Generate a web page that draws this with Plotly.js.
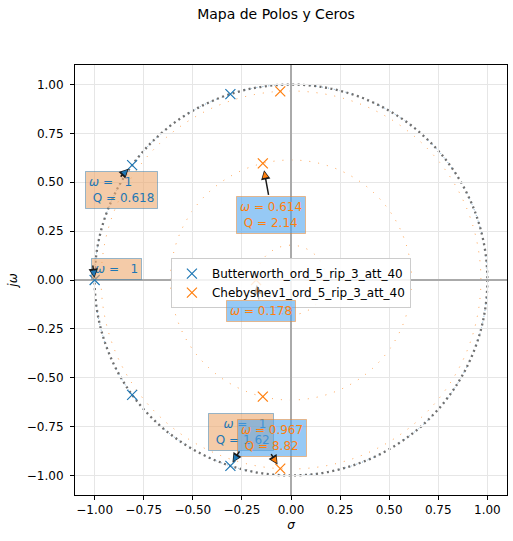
<!DOCTYPE html>
<html>
<head>
<meta charset="utf-8">
<script src="https://cdn.plot.ly/plotly-3.0.1.min.js"></script>
<style>
  html, body { margin: 0; padding: 0; background: #ffffff; }
  #plot { width: 513px; height: 541px; }
</style>
</head>
<body>
<div id="plot"></div>
<script>
// Pole sections of each filter: natural frequency and quality factor.
// A section without Q is a single real pole.
const butterName = 'Butterworth_ord_5_rip_3_att_40';
const butterOmega = [1, 1, 1];
const butterQ = [null, 0.618, 1.62];

const chebyName = 'Chebyshev1_ord_5_rip_3_att_40';
const chebyOmega = [0.178, 0.614, 0.967];
const chebyQ = [null, 2.14, 8.82];

const blue = '#1f77b4';
const orange = '#ff7f0e';
const FONT = 'DejaVu Sans, Liberation Sans, sans-serif';

// Poles of a section: real pole at -w, or the conjugate pair
// sigma = -w/(2Q), wd = w*sqrt(1 - 1/(4Q^2)).
function sectionPoles(w, q) {
  if (q === null) return [{ re: -w, im: 0 }];
  const re = -w / (2 * q);
  const im = w * Math.sqrt(1 - 1 / (4 * q * q));
  return [{ re: re, im: im }, { re: re, im: -im }];
}

function filterPoles(omegas, qs) {
  const xs = [], ys = [];
  omegas.forEach(function (w, i) {
    sectionPoles(w, qs[i]).forEach(function (p) { xs.push(p.re); ys.push(p.im); });
  });
  return { x: xs, y: ys };
}

const bp = filterPoles(butterOmega, butterQ);
const cp = filterPoles(chebyOmega, chebyQ);

const traces = [
  {
    type: 'scatter', mode: 'markers', name: butterName,
    x: bp.x, y: bp.y,
    marker: { symbol: 'x-thin', size: 10, color: blue, line: { color: blue, width: 1.2 } }
  },
  {
    type: 'scatter', mode: 'markers', name: chebyName,
    x: cp.x, y: cp.y,
    marker: { symbol: 'x-thin', size: 10, color: orange, line: { color: orange, width: 1.2 } }
  }
];

// Dotted circles of constant natural frequency
const shapes = [];
function circle(r, color, width, dash) {
  shapes.push({
    type: 'circle', xref: 'x', yref: 'y', layer: 'below',
    x0: -r, y0: -r, x1: r, y1: r,
    line: { color: color, width: width, dash: dash }
  });
}
chebyOmega.forEach(function (w) { circle(w, 'rgba(255,127,14,0.75)', 1, '1px,8px'); });
circle(butterOmega[0], 'rgba(31,119,180,0.6)', 1, '1px,5px');
circle(butterOmega[0], '#707070', 2.3, '2px,3.5px');

// Section labels: box centre (data units), which pole of the pair it refers to,
// and the pointer from the pole towards the box (pixels) with its gap to the pole.
const NB = '\u00a0';
const butterBox = { fc: 'rgba(237,168,110,0.6)', ec: 'rgba(31,119,180,0.45)', tc: blue };
const chebyBox = { fc: 'rgba(80,165,238,0.6)', ec: 'rgba(255,127,14,0.45)', tc: orange };

const labelSpecs = [
  { w: butterOmega[0], q: butterQ[0], side: 0, bx: -0.888, by: 0.055, st: butterBox, lead: '', dx: -2, dy: -16, gap: 2, fade: 1 },
  { w: butterOmega[1], q: butterQ[1], side: 0, bx: -0.862, by: 0.462, st: butterBox, lead: '', dx: -13, dy: 13, gap: 5, fade: 1 },
  { w: butterOmega[2], q: butterQ[2], side: 1, bx: -0.257, by: -0.778, st: butterBox, lead: NB + NB + NB, dx: 10, dy: -16, gap: 4, fade: 1 },
  { w: chebyOmega[0], q: chebyQ[0], side: 0, bx: -0.155, by: -0.161, st: chebyBox, lead: '', dx: 3, dy: 21, gap: 5, fade: 0.25 },
  { w: chebyOmega[1], q: chebyQ[1], side: 0, bx: -0.104, by: 0.334, st: chebyBox, lead: '', dx: 6, dy: 33, gap: 7, fade: 1 },
  { w: chebyOmega[2], q: chebyQ[2], side: 1, bx: -0.099, by: -0.806, st: chebyBox, lead: '', dx: -10, dy: -16, gap: 5, fade: 1 }
];

function wText(w) { return w === 1 ? '<i>ω</i> =' + NB + NB + NB + '1' : '<i>ω</i> = ' + String(w); }

const boxes = [];
const pointers = [];
labelSpecs.forEach(function (s) {
  const p = sectionPoles(s.w, s.q)[s.side];
  let text = s.lead + wText(s.w);
  if (s.q !== null) text += '<br>' + NB + 'Q = ' + String(s.q);
  boxes.push({
    x: s.bx, y: s.by, xref: 'x', yref: 'y', xanchor: 'center', yanchor: 'middle',
    text: text, align: 'left', showarrow: false,
    font: { family: FONT, size: 12, color: s.st.tc },
    bgcolor: s.st.fc, bordercolor: s.st.ec, borderwidth: 1, borderpad: 3
  });
  // dark outlined pointer
  pointers.push({
    x: p.re, y: p.im, xref: 'x', yref: 'y', text: '',
    showarrow: true, ax: s.dx, ay: s.dy,
    arrowhead: 2, arrowsize: 1.25, arrowwidth: 1.5, arrowcolor: '#1a1a1a',
    standoff: s.gap, opacity: s.fade
  });
  // coloured fill of the pointer head
  const len = Math.hypot(s.dx, s.dy);
  const k = (s.gap + 9) / len;
  pointers.push({
    x: p.re, y: p.im, xref: 'x', yref: 'y', text: '',
    showarrow: true, ax: s.dx * k, ay: s.dy * k,
    arrowhead: 2, arrowsize: 1.7, arrowwidth: 0.7, arrowcolor: s.st.tc,
    standoff: s.gap + 1.6, opacity: s.fade
  });
});

function axisStyle(title, standoff, labelGap) {
  return {
    range: [-1.1, 1.1], tick0: 0, dtick: 0.25, tickformat: '.2f',
    showgrid: true, gridcolor: '#e6e6e6', gridwidth: 1,
    zeroline: true, zerolinecolor: '#aaaaaa', zerolinewidth: 2,
    showline: true, mirror: true, linecolor: '#000000', linewidth: 1,
    ticks: 'outside', ticklen: 4, tickwidth: 1, tickcolor: '#000000',
    ticklabelstandoff: labelGap,
    tickfont: { family: FONT, size: 12, color: '#000000' },
    title: { text: title, standoff: standoff, font: { family: FONT, size: 12, color: '#000000' } },
    automargin: false, fixedrange: true
  };
}

const layout = {
  width: 513, height: 541,
  margin: { l: 75, r: 6, t: 65, b: 46, pad: 0 },
  paper_bgcolor: '#ffffff', plot_bgcolor: '#ffffff',
  font: { family: FONT, size: 12, color: '#000000' },
  title: {
    text: 'Mapa de Polos y Ceros',
    font: { family: FONT, size: 14, color: '#000000' },
    x: 276 / 513, xanchor: 'center', y: 1 - 14 / 541, yanchor: 'middle'
  },
  xaxis: axisStyle('<i>σ</i>', 4, 0),
  yaxis: axisStyle('<i>jω</i>', 6, 4),
  showlegend: true,
  legend: {
    x: 0.222, y: 0.551, xanchor: 'left', yanchor: 'top',
    bgcolor: 'rgba(255,255,255,0.85)', bordercolor: '#cccccc', borderwidth: 1,
    font: { family: FONT, size: 12, color: '#000000' }
  },
  shapes: shapes,
  annotations: boxes.concat(pointers)
};

Plotly.newPlot('plot', traces, layout, { staticPlot: true, displayModeBar: false });
</script>
</body>
</html>
